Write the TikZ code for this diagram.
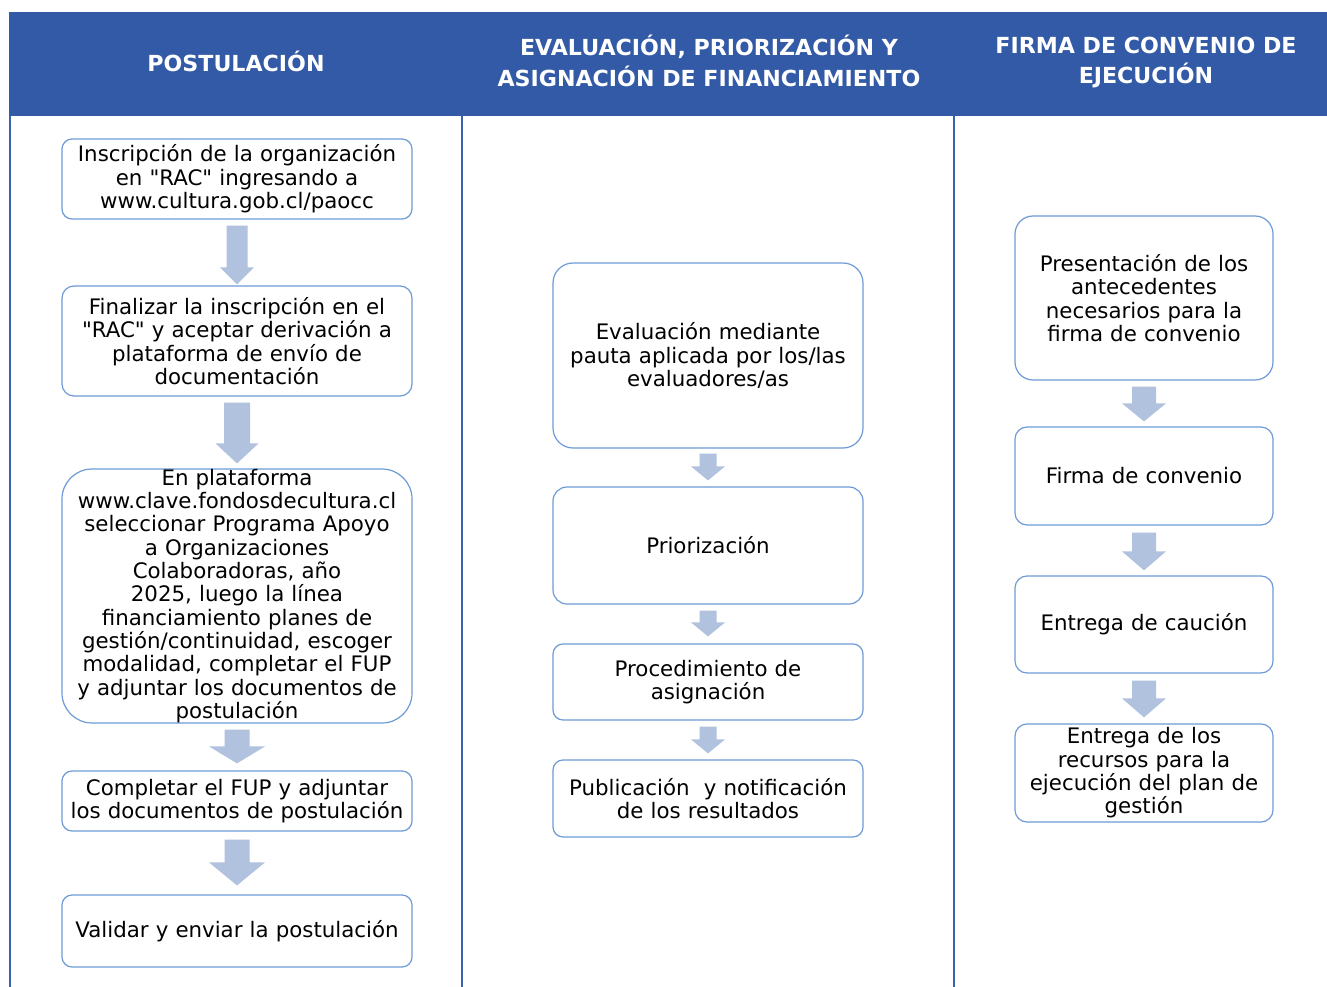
\documentclass[tikz,border=0pt]{standalone}
\usepackage{fontspec}
\setmainfont{DejaVu Sans}
\usetikzlibrary{calc}
\definecolor{headblue}{HTML}{335AA6}
\definecolor{lineblue}{HTML}{3A63AE}
\definecolor{boxline}{HTML}{6E9AD6}
\definecolor{arrowfill}{HTML}{B0C2DE}
\tikzset{
  stepbox/.style={draw=boxline, line width=0.9pt, fill=white, align=center,
    inner sep=0pt, font=\fontsize{16}{17.5}\selectfont},
  headtext/.style={text=white, align=center, inner sep=0pt,
    font=\bfseries\fontsize{16.6}{23.2}\selectfont},
  divider/.style={draw=lineblue, line width=1.1pt}
}
% #1 from, #2 to, #3 shaft half width, #4 head half width, #5 head length, #6 top gap, #7 tip gap
\newcommand\blockarrow[7]{%
  \fill[arrowfill] ($(#1.south)+(-#3,#6)$) -- ($(#1.south)+(#3,#6)$)
    -- ($(#2.north)+(#3,-#7-#5)$) -- ($(#2.north)+(#4,-#7-#5)$)
    -- ($(#2.north)+(0,-#7)$)
    -- ($(#2.north)+(-#4,-#7-#5)$) -- ($(#2.north)+(-#3,-#7-#5)$) -- cycle;}
\newcommand\boxat[7]{% name, x, y, w, h, radius, text
  \node[stepbox, rounded corners=#6*0.75pt, minimum width=#4*0.75pt,
    minimum height=#5*0.75pt, text width=#4*0.75pt-6pt] (#1) at (#2,#3) {#7};}
\newcommand\dq{\textquotedbl}
\begin{document}
\begin{tikzpicture}[x=0.75pt, y=-0.75pt]
\useasboundingbox (0,0) rectangle (1327,987);
\fill[white] (0,0) rectangle (1327,987);
% header band
\fill[headblue] (9,12) rectangle (1327,116);
\node[headtext] (h1) at (236,61.5) {POSTULACIÓN};
\node[headtext] (h2) at (709,61.2) {EVALUACIÓN, PRIORIZACIÓN Y\\ASIGNACIÓN DE FINANCIAMIENTO};
\node[headtext] (h3) at (1146,62.5) {FIRMA DE CONVENIO DE\\EJECUCIÓN};
% column lines
\draw[divider] (10.2,116) -- (10.2,987);
\draw[divider] (462,116) -- (462,987);
\draw[divider] (954,116) -- (954,987);
% column 1
\boxat{a1}{237}{179}{350}{80}{10}{Inscripción de la organización\\en \dq RAC\dq{} ingresando a\\www.cultura.gob.cl/paocc}
\boxat{a2}{237}{341}{350}{110}{12}{Finalizar la inscripción en el\\\dq RAC\dq{} y aceptar derivación a\\plataforma de envío de\\documentación}
\boxat{a3}{237}{596}{350}{252}{30}{En plataforma\\www.clave.fondosdecultura.cl\\ seleccionar Programa Apoyo\\a Organizaciones\\Colaboradoras, año\\2025, luego la línea\\financiamiento planes de\\gestión/continuidad, escoger\\modalidad, completar el FUP\\y adjuntar los documentos de\\postulación}
\boxat{a4}{237}{801}{350}{60}{10}{Completar el FUP y adjuntar\\los documentos de postulación}
\boxat{a5}{237}{931}{350}{72}{10}{Validar y enviar la postulación}
\blockarrow{a1}{a2}{10.5}{17}{17}{6}{1}
\blockarrow{a2}{a3}{13}{21.5}{20}{6}{5}
\blockarrow{a3}{a4}{12.5}{28}{17}{6}{7}
\blockarrow{a4}{a5}{12.5}{28}{23}{8}{9}
% column 2
\boxat{b1}{708}{355.5}{310}{185}{20}{Evaluación mediante\\pauta aplicada por los/las\\evaluadores/as}
\boxat{b2}{708}{545.5}{310}{117}{14}{Priorización}
\boxat{b3}{708}{682}{310}{76}{10}{Procedimiento de\\asignación}
\boxat{b4}{708}{798.5}{310}{77}{10}{Publicación\ \ y notificación\\de los resultados}
\blockarrow{b1}{b2}{8.5}{17}{14}{5}{6}
\blockarrow{b2}{b3}{8.5}{17}{14}{6}{7}
\blockarrow{b3}{b4}{8.5}{17}{14}{6}{6}
% column 3
\boxat{c1}{1144}{298}{258}{164}{18}{Presentación de los\\antecedentes\\necesarios para la\\firma de convenio}
\boxat{c2}{1144}{476}{258}{98}{12}{Firma de convenio}
\boxat{c3}{1144}{624.5}{258}{97}{12}{Entrega de caución}
\boxat{c4}{1144}{773}{258}{98}{12}{Entrega de los\\recursos para la\\ejecución del plan de\\gestión}
\blockarrow{c1}{c2}{12}{22}{18}{6}{5}
\blockarrow{c2}{c3}{12}{22}{19}{7}{5}
\blockarrow{c3}{c4}{12}{22}{19}{7}{6}
\end{tikzpicture}
\end{document}
